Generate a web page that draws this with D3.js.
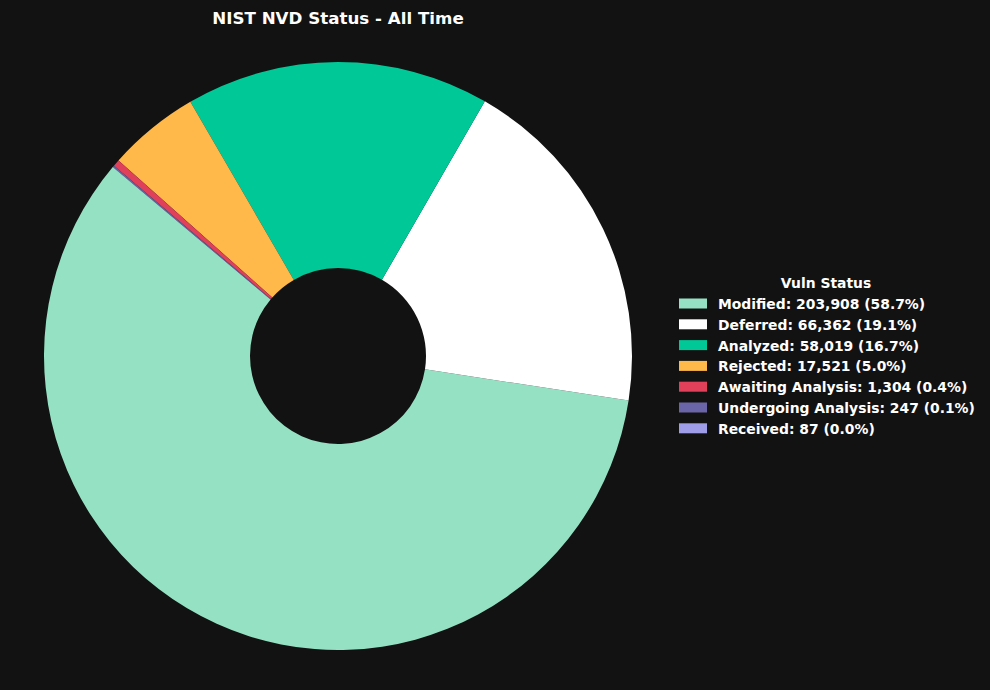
<!DOCTYPE html>
<html><head><meta charset="utf-8">
<script src="https://cdn.jsdelivr.net/npm/d3@7"></script>
<style>html,body{margin:0;padding:0;background:#121212;}</style>
</head><body>
<script>
const categories = ["Modified","Deferred","Analyzed","Rejected","Awaiting Analysis","Undergoing Analysis","Received"];
const values = [203908, 66362, 58019, 17521, 1304, 247, 87];
const colors = ["#95e1c3","#ffffff","#00c896","#ffb84a","#e0405a","#6a64a8","#a09de8"];
const title = "NIST NVD Status - All Time";
const legendTitle = "Vuln Status";

const W = 990, H = 690;
const svg = d3.select("body").append("svg").attr("width", W).attr("height", H)
  .style("background", "#121212").style("font-family", "'DejaVu Sans', sans-serif");
svg.append("rect").attr("width", W).attr("height", H).attr("fill", "#121212");

const cx = 338, cy = 356, rOuter = 294, rInner = 88;
const total = d3.sum(values);
const start = (90 - 140) * Math.PI / 180;
const pie = d3.pie().sort(null).value(d => d).startAngle(start).endAngle(start - 2 * Math.PI);
const arcs = pie(values);
const arc = d3.arc().innerRadius(rInner).outerRadius(rOuter);
const g = svg.append("g").attr("transform", `translate(${cx},${cy})`);
g.selectAll("path").data(arcs).join("path")
  .attr("d", arc).attr("fill", (d, i) => colors[i]);

svg.append("text").attr("x", cx).attr("y", 24).attr("text-anchor", "middle")
  .attr("fill", "#ffffff").attr("font-weight", "bold").attr("font-size", 16.7).text(title);

const fmt = d3.format(",");
const lg = svg.append("g").attr("transform", "translate(679,0)");
lg.append("text").attr("x", 147).attr("y", 288).attr("text-anchor", "middle")
  .attr("fill", "#ffffff").attr("font-weight", "bold").attr("font-size", 13.9).text(legendTitle);
categories.forEach((c, i) => {
  const y = 303.5 + i * 20.8;
  lg.append("rect").attr("x", 0).attr("y", y - 5).attr("width", 28).attr("height", 10).attr("fill", colors[i]);
  lg.append("text").attr("x", 39).attr("y", y + 5.5).attr("fill", "#ffffff")
    .attr("font-weight", "bold").attr("font-size", 13.9)
    .text(`${c}: ${fmt(values[i])} (${(values[i] / total * 100).toFixed(1)}%)`);
});
</script>
</body></html>
